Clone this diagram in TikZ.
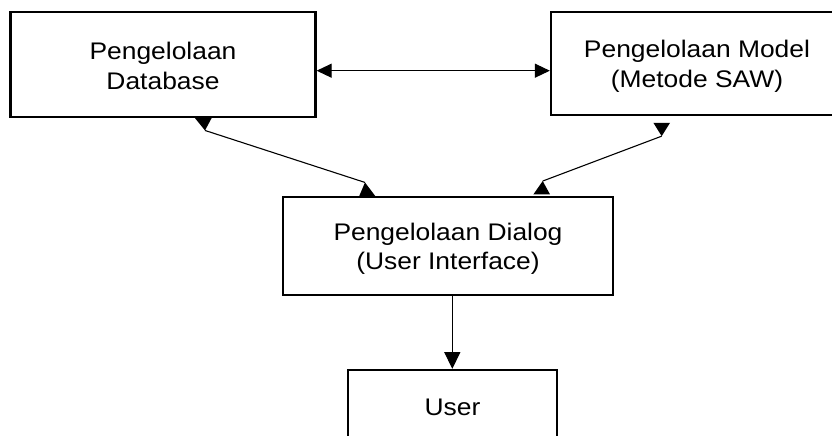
\documentclass[tikz,border=0pt]{standalone}
\usepackage{fontspec}
\newfontfamily\lblfont[FakeStretch=1.1]{Liberation Sans}
\usetikzlibrary{arrows.meta,calc}
\begin{document}
\begin{tikzpicture}[x=1pt,y=-1pt,
  box/.style={draw, line width=2.3pt, rectangle, inner sep=0pt},
  lbl/.style={align=center, font=\lblfont\fontsize{24}{29.5}\selectfont, inner sep=0pt},
  conn/.style={line width=1.1pt},
  tipfill/.style={fill=black, draw=none}]
\clip (0,0) rectangle (832,436);
\fill[white] (0,0) rectangle (832,436);
% boxes
\node[box, minimum width=305pt, minimum height=105pt,
  label={[lbl, yshift=-1.5pt]center:Pengelolaan\\Database}] (db) at (163,64.5) {};
\node[box, minimum width=292pt, minimum height=103pt,
  label={[lbl, yshift=-3pt]center:Pengelolaan Model\\(Metode SAW)}] (model) at (697,63.5) {};
\node[box, minimum width=330pt, minimum height=98pt,
  label={[lbl, yshift=-3pt]center:Pengelolaan Dialog\\(User Interface)}] (dl) at (448,246) {};
\node[box, minimum width=209pt, minimum height=72pt,
  label={[lbl, yshift=-1pt]center:User}] (usr) at (452.5,406) {};
% helper coordinates
\coordinate (hy) at (0,70.7);
\coordinate (vx) at (452.3,0);
% horizontal double arrow
\draw[conn, {Triangle[length=15pt,width=14pt]}-{Triangle[length=15pt,width=14pt]}]
  (db.east |- hy) -- (model.west |- hy);
% vertical arrow
\draw[conn, -{Triangle[length=16.7pt,width=16pt]}] (dl.south -| vx) -- (usr.north -| vx);
% diagonal connectors with their triangles
\coordinate (b1) at (db.south -| 203.3,0);
\coordinate (b2) at (dl.north -| 367.2,0);
\coordinate (b3) at ($(model.south -| 661.7,0)+(0,6.7)$);
\coordinate (b4) at ($(dl.north -| 541.7,0)+(0,-1.5)$);
\coordinate (a1) at ($(b1)+(1.7,12.3)$);
\coordinate (a2) at ($(b2)+(-2.2,-13.4)$);
\coordinate (a3) at ($(b3)+(0,13.3)$);
\coordinate (a4) at ($(b4)+(1,-13.3)$);
\draw[conn] (a1) -- (a2);
\draw[conn] (a3) -- (a4);
\fill[tipfill] ($(b1)+(-8.3,0)$) -- ($(b1)+(8.3,0)$) -- (a1) -- cycle;
\fill[tipfill] ($(b2)+(-7.9,0)$) -- ($(b2)+(7.9,0)$) -- (a2) -- cycle;
\fill[tipfill] ($(b3)+(-8.3,0)$) -- ($(b3)+(8.3,0)$) -- (a3) -- cycle;
\fill[tipfill] ($(b4)+(-8.3,0)$) -- ($(b4)+(8.3,0)$) -- (a4) -- cycle;
\end{tikzpicture}
\end{document}
